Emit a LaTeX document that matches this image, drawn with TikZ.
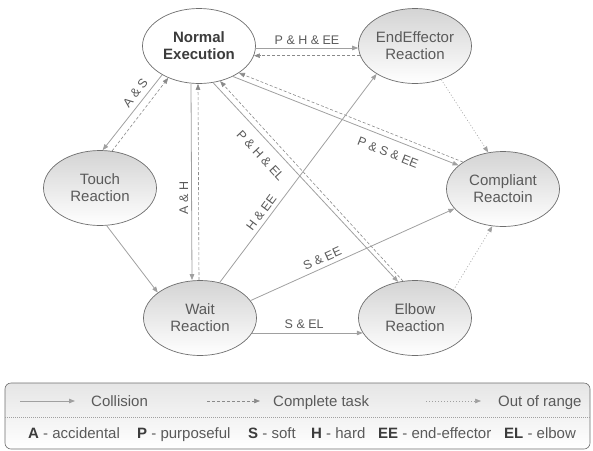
\documentclass[tikz,border=0pt]{standalone}
\usepackage{fontspec}
\setmainfont{Liberation Sans}
\usetikzlibrary{arrows.meta,shapes.geometric}
\definecolor{txt}{HTML}{5A5A5A}
\definecolor{dark}{HTML}{3C3C3C}
\definecolor{edge}{HTML}{A0A0A0}
\definecolor{dash}{HTML}{8A8A8A}
\definecolor{rim}{HTML}{6E6E6E}

\begin{document}
\begin{tikzpicture}
  [
    x=1pt, y=-1pt,
    >={Triangle[length=6pt,width=4.5pt]},
    state/.style = {draw=rim, ellipse, line width=0.7pt, minimum width=113pt, minimum height=75pt,
                    inner sep=0pt, align=center, text=txt, top color=black!17, bottom color=white,
                    font=\fontsize{15}{17}\selectfont},
    start/.style = {state, top color=white, bottom color=white, text=dark,
                    font=\fontsize{15}{17}\selectfont\bfseries},
    hit/.style   = {->, draw=edge, line width=0.8pt},
    done/.style  = {->, draw=dash, line width=0.6pt, dash pattern=on 3pt off 2pt},
    away/.style  = {->, draw=edge, line width=0.6pt, dash pattern=on 1pt off 2pt},
    lbl/.style   = {text=txt, font=\fontsize{12.5}{14}\selectfont, inner sep=3pt},
    key/.style   = {text=txt, font=\fontsize{15}{17}\selectfont, inner sep=0pt, anchor=base west},
  ]

%Picture frame
\useasboundingbox (0,0) rectangle (593,450);

%States
\node[start] (normal) at (199,46)  {Normal\\Execution};
\node[state] (endeff) at (415,46)  {EndEffector\\Reaction};
\node[state] (compl)  at (503,189) {Compliant\\Reactoin};
\node[state] (touch)  at (100,188) {Touch\\Reaction};
\node[state] (wait)   at (200,318) {Wait\\Reaction};
\node[state] (elbow)  at (415,318) {Elbow\\Reaction};

%Collisions and returns
\draw[hit]  (normal.-2) -- node[lbl, above] {P \& H \& EE} (endeff.182);
\draw[done] (endeff.190) -- (normal.-10);
\draw[hit]  (normal.218) -- node[lbl, sloped, above=2pt, pos=0.32] {A \& S} (touch.86);
\draw[done] (touch.72) -- (normal.226);
\draw[hit]  ([xshift=-8pt]normal.south) -- node[lbl, rotate=90, above, pos=0.58] {A \& H} ([xshift=-8pt]wait.north);
\draw[done] ([xshift=-1pt]wait.north) -- ([xshift=-1pt]normal.south);
\draw[hit]  (normal.291) -- node[lbl, sloped, below=7pt, pos=0.315] {P \& H \& EL} (elbow.115);
\draw[done] (elbow.108) -- (normal.301);
\draw[hit]  (normal.318) -- node[lbl, sloped, below=6pt, pos=0.71] {P \& S \& EE} (compl.152);
\draw[done] (compl.146) -- (normal.326);
\draw[hit]  (touch.280) -- (wait.149);
\draw[hit]  (wait.61) -- node[lbl, sloped, above=1pt, pos=0.31] {H \& EE} (endeff.216);
\draw[hit]  (wait.19) -- node[lbl, sloped, above=1pt, pos=0.37] {S \& EE} (compl.202);
\draw[hit]  (wait.-16) -- node[lbl, above=1pt, pos=0.47] {S \& EL} (elbow.196);

%Out of range
\draw[away] (endeff.308) -- (compl.112);
\draw[away] (elbow.36) -- (compl.254);

%Legend box
\draw[draw=rim, line width=0.6pt, rounded corners=6pt, top color=black!10, bottom color=white] (5,383) rectangle (590,449);
\draw[draw=edge, line width=0.5pt, dash pattern=on 1pt off 1pt] (5,417) -- (590,417);

\foreach [count=\i] \s/\xa/\xb/\xt/\t in {hit/20/75/91/Collision, done/207/260/273/Complete task, away/426/481/498/Out of range}
{
\coordinate (a\i) at (\xa,401);
\coordinate (b\i) at (\xb,401);
\draw[\s] (a\i) -- (b\i);
\node[key] (k\i) at (\xt,406) {\t};
}
\foreach [count=\i] \k/\v/\x in {A/accidental/28, P/purposeful/137, S/soft/248, H/hard/311, EE/end-effector/378, EL/elbow/504}
{
\node[key] (m\i) at (\x,438) {\textcolor{dark}{\textbf{\k}} - \v};
}
\end{tikzpicture}
\end{document}
